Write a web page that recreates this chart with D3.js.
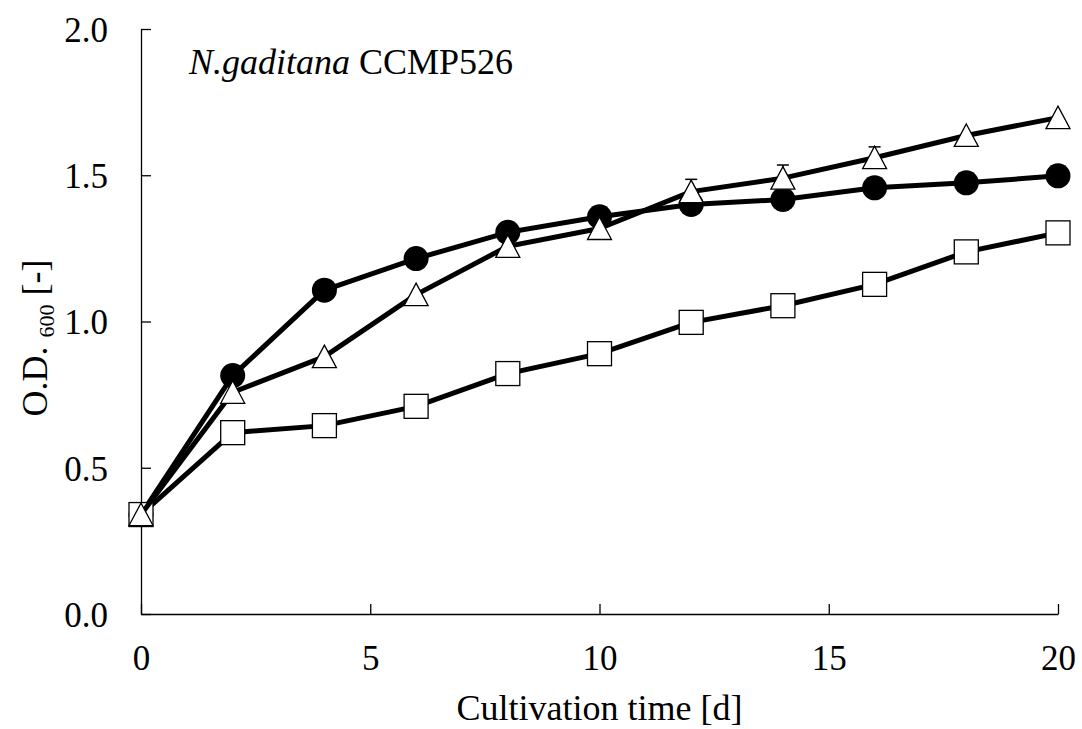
<!DOCTYPE html>
<meta charset="utf-8">
<script src="https://d3js.org/d3.v7.min.js"></script>
<style>
  body { margin: 0px; background: #fff; }
  text { font-family: "Liberation Serif", "DejaVu Serif", serif; fill: #000; }
</style>
<div id="chart"></div>
<script>

// cultivation time [d]
const days = [0, 2, 4, 6, 8, 10, 12, 14, 16, 18, 20];

// O.D.600 values
const circleVals   = [0.34, 0.815, 1.107, 1.215, 1.305, 1.358, 1.40, 1.417, 1.457, 1.474, 1.498];
const triangleVals = [0.34, 0.758, 0.880, 1.092, 1.257, 1.318, 1.444, 1.490, 1.560, 1.636, 1.697];
const squareVals   = [0.34, 0.620, 0.644, 0.710, 0.822, 0.890, 0.997, 1.054, 1.127, 1.238, 1.303];

// error bars (only the visible ones)
const circleErr   = [0.03, 0, 0, 0, 0, 0, 0, 0.035, 0, 0, 0];
const triangleErr = [0, 0, 0, 0, 0, 0, 0.042, 0.045, 0.037, 0, 0];

const xTicks = [0, 5, 10, 15, 20];
const yTicks = [0.0, 0.5, 1.0, 1.5, 2.0];

const W = 1082, H = 729;
const margin = {top: 29, right: 24, bottom: 115, left: 141};
const width = W - margin.left - margin.right,
      height = H - margin.top - margin.bottom;

const svg = d3.select("#chart").append("svg")
    .attr("width", W).attr("height", H);
const g = svg.append("g")
    .attr("transform", "translate(" + margin.left + "," + margin.top + ")");

const x = d3.scaleLinear().domain([0, 20]).range([0, width]);
const y = d3.scaleLinear().domain([0, 2]).range([height, 0]);

// axes, ticks pointing inward
const xAxis = g.append("g")
    .attr("transform", "translate(0," + height + ")")
    .call(d3.axisBottom(x).tickValues(xTicks).tickSizeInner(-10).tickSizeOuter(0).tickPadding(31));
const yAxis = g.append("g")
    .call(d3.axisLeft(y).tickValues(yTicks).tickFormat(d3.format(".1f")).tickSizeInner(-10).tickSizeOuter(0).tickPadding(33));

[xAxis, yAxis].forEach(a => {
  a.select(".domain").attr("stroke", "#000").attr("stroke-width", 1.3);
  a.selectAll(".tick line").attr("stroke", "#000").attr("stroke-width", 1.3);
  a.selectAll(".tick text").style("font-size", "35px").attr("fill", "#000")
    .style("font-family", '"Liberation Serif", serif');
});
yAxis.selectAll(".tick text").attr("dy", "0.35em");

const line = d3.line().x((d, i) => x(days[i])).y(d => y(d));

function errBars(vals, errs, dir) {
  const eb = g.append("g").attr("stroke", "#000").attr("stroke-width", 1.5);
  days.forEach((d, i) => {
    if (!errs[i]) return;
    const y0 = y(vals[i]), y1 = y(vals[i] + dir * errs[i]);
    eb.append("line").attr("x1", x(d)).attr("x2", x(d)).attr("y1", y0).attr("y2", y1);
    eb.append("line").attr("x1", x(d) - 6).attr("x2", x(d) + 6).attr("y1", y1).attr("y2", y1);
  });
}

function drawLine(vals) {
  g.append("path").datum(vals)
    .attr("d", line)
    .attr("fill", "none")
    .attr("stroke", "#000")
    .attr("stroke-width", 5)
    .attr("stroke-linejoin", "round");
}

// circles (filled)
errBars(circleVals, circleErr, -1);
drawLine(circleVals);
g.append("g").selectAll("circle").data(circleVals).enter().append("circle")
    .attr("cx", (d, i) => x(days[i]))
    .attr("cy", d => y(d))
    .attr("r", 12.5)
    .attr("fill", "#000");

// squares (open)
drawLine(squareVals);
g.append("g").selectAll("rect").data(squareVals).enter().append("rect")
    .attr("x", (d, i) => x(days[i]) - 12)
    .attr("y", d => y(d) - 12)
    .attr("width", 24).attr("height", 24)
    .attr("fill", "#fff").attr("stroke", "#000").attr("stroke-width", 1.3);

// triangles (open)
errBars(triangleVals, triangleErr, 1);
drawLine(triangleVals);
g.append("g").selectAll("path.tri").data(triangleVals).enter().append("path")
    .attr("class", "tri")
    .attr("transform", (d, i) => "translate(" + x(days[i]) + "," + y(d) + ")")
    .attr("d", "M0,-11.5L12,11L-12,11Z")
    .attr("fill", "#fff").attr("stroke", "#000").attr("stroke-width", 1.3);

// annotation
const ann = svg.append("text").attr("x", 189).attr("y", 74).style("font-size", "36px");
ann.append("tspan").style("font-style", "italic").text("N.gaditana");
ann.append("tspan").text(" CCMP526");

// axis titles
svg.append("text")
    .attr("x", margin.left + width / 2).attr("y", 720)
    .attr("text-anchor", "middle")
    .style("font-size", "36px")
    .text("Cultivation time [d]");

const yl = svg.append("text")
    .attr("transform", "translate(47,338) rotate(-90)")
    .attr("text-anchor", "middle")
    .style("font-size", "36px");
yl.append("tspan").text("O.D. ");
yl.append("tspan").style("font-size", "22px").attr("dy", 7).text("600");
yl.append("tspan").attr("dy", -7).text(" [-]");

</script>
